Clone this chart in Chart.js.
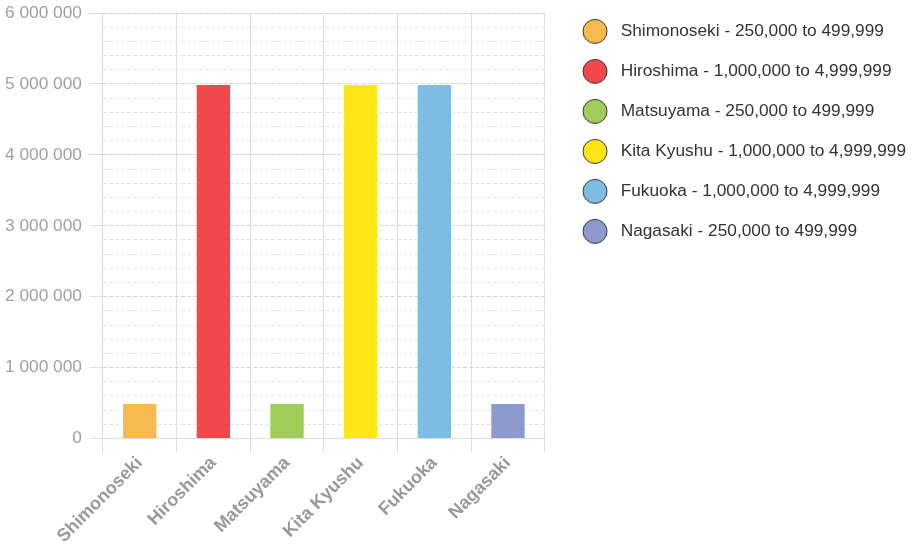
<!DOCTYPE html>
<html>
<head>
<meta charset="utf-8">
<script src="https://cdn.jsdelivr.net/npm/chart.js@4/dist/chart.umd.min.js"></script>
<style>
html,body{margin:0;padding:0;background:#fff;}
#wrap{width:923px;height:547px;position:relative;}
</style>
</head>
<body>
<div id="wrap"><canvas id="c"></canvas></div>
<script>
const cities = ['Shimonoseki', 'Hiroshima', 'Matsuyama', 'Kita Kyushu', 'Fukuoka', 'Nagasaki'];
const populations = [499999, 4999999, 499999, 4999999, 4999999, 499999];
const ranges = ['250,000 to 499,999', '1,000,000 to 4,999,999', '250,000 to 499,999', '1,000,000 to 4,999,999', '1,000,000 to 4,999,999', '250,000 to 499,999'];
const colors = ['#F8BA4E', '#F2484C', '#A0CD5A', '#FFE614', '#7DBDE2', '#8C9ACE'];
const yTickStep = 200000;
const yMajorStep = 1000000;
const yMax = 6000000;

const FONT = "'Liberation Sans', Arial, Helvetica, sans-serif";
const fmt = v => String(v).replace(/\B(?=(\d{3})+(?!\d))/g, ' ');
const isMajor = ctx => ctx.tick && ctx.tick.value % yMajorStep === 0;

// legend marker: circle centred in a slightly wider box so the text sits further right
function legendDot(color) {
  const cv = document.createElement('canvas');
  cv.width = 34; cv.height = 27;
  const g = cv.getContext('2d');
  g.beginPath();
  g.arc(17, 13.5, 12, 0, Math.PI * 2);
  g.fillStyle = color;
  g.fill();
  g.lineWidth = 1;
  g.strokeStyle = '#333';
  g.stroke();
  return cv;
}
const dots = colors.map(legendDot);

new Chart(document.getElementById('c'), {
  type: 'bar',
  data: {
    labels: cities,
    datasets: [{
      data: populations,
      backgroundColor: colors,
      borderColor: 'rgba(255,255,255,0.4)',
      borderWidth: 1,
      categoryPercentage: 0.8,
      barPercentage: 0.6
    }]
  },
  options: {
    responsive: true,
    maintainAspectRatio: false,
    animation: false,
    layout: { padding: { left: 0, right: 7, top: 0, bottom: 0 } },
    plugins: {
      tooltip: { enabled: false },
      legend: {
        position: 'right',
        align: 'start',
        maxWidth: 440,
        labels: {
          font: { family: FONT, size: 17.3 },
          color: '#333',
          usePointStyle: true,
          pointStyleWidth: 34,
          padding: 22.7,
          generateLabels: () => cities.map((c, i) => ({
            text: c + ' - ' + ranges[i],
            fillStyle: colors[i],
            strokeStyle: '#333',
            lineWidth: 1,
            pointStyle: dots[i],
            hidden: false,
            index: i,
            fontColor: '#333'
          }))
        }
      }
    },
    scales: {
      x: {
        grid: { color: '#e0e0e0', tickColor: '#e0e0e0', tickLength: 14 },
        border: { color: '#dcdcdc' },
        ticks: {
          color: '#999999',
          font: { family: FONT, size: 18, weight: 'bold' },
          maxRotation: 45, minRotation: 45, padding: 0
        }
      },
      y: {
        min: 0, max: yMax,
        afterFit: s => { s.width = s.width - 3; },
        ticks: {
          stepSize: yTickStep,
          autoSkip: false,
          color: '#a0a0a0',
          font: { family: FONT, size: 17.3, lineHeight: 0.58 },
          padding: 8,
          callback: v => (v % yMajorStep === 0 ? fmt(v) : '')
        },
        grid: {
          color: ctx => isMajor(ctx) ? '#d4d4d4' : '#e6e6e6',
          tickColor: ctx => isMajor(ctx) ? '#dcdcdc' : 'rgba(0,0,0,0)',
          tickLength: 13
        },
        border: { color: '#dcdcdc', dash: [4, 2] }
      },
      spacer: {
        position: 'right',
        display: true,
        grid: { display: false },
        border: { display: false },
        ticks: { display: false },
        afterFit: s => { s.width = 10.5; }
      }
    }
  }
});
</script>
</body>
</html>
